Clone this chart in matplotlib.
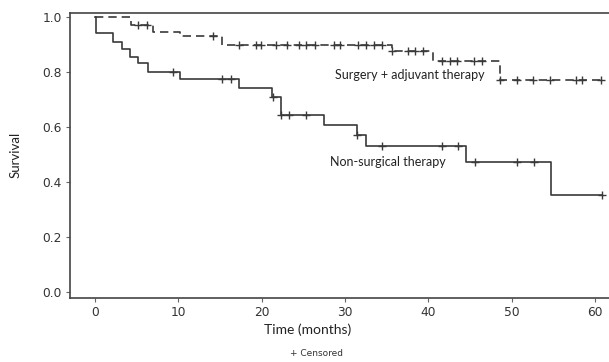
import numpy as np
import matplotlib
matplotlib.use('Agg')
import matplotlib.pyplot as plt

# Kaplan-Meier curves (time in months, survival after each step)
ns_t = [0, 0.15, 2.2, 3.2, 4.2, 5.2, 6.4, 10.2, 17.3, 21.3, 22.3, 27.5, 31.5, 32.5, 44.5, 54.7, 60.9]
ns_s = [1.0, 0.942, 0.912, 0.884, 0.857, 0.833, 0.803, 0.775, 0.743, 0.711, 0.645, 0.609, 0.572, 0.532, 0.472, 0.353, 0.353]
ns_cens = [9.4, 15.3, 16.3, 21.4, 22.3, 23.3, 25.3, 31.5, 34.4, 41.6, 43.6, 45.6, 50.7, 52.7, 60.9]

su_t = [0, 4.3, 7.0, 10.2, 15.2, 35.6, 40.6, 48.6, 61.0]
su_s = [1.0, 0.972, 0.948, 0.933, 0.900, 0.876, 0.840, 0.772, 0.772]
su_cens = [5.1, 6.2, 14.2, 17.3, 19.3, 19.9, 21.7, 23.1, 24.5, 25.3, 26.4, 28.7, 29.4,
           31.6, 32.5, 33.5, 34.4, 35.6, 37.6, 38.4, 39.4, 41.7, 42.6, 43.5, 45.5, 46.4,
           48.6, 50.6, 52.6, 54.6, 57.7, 58.5, 60.7]

x_ticks = [0, 10, 20, 30, 40, 50, 60]
y_ticks = [0.0, 0.2, 0.4, 0.6, 0.8, 1.0]

lab_surg = 'Surgery + adjuvant therapy'
lab_non = 'Non-surgical therapy'


def level_at(times, surv, tc):
    # value of the step curve at censor time
    idx = np.searchsorted(times, tc, side='right') - 1
    return np.array(surv)[idx]


col = '#3a3a3a'
fig = plt.figure(figsize=(6.09, 3.62), dpi=100)
ax = fig.add_axes([0.115, 0.177, 0.885, 0.788])

# surgery (dashed)
ax.step(su_t, su_s, where='post', color=col, lw=1.2, dashes=(5, 3))
ax.plot(su_cens, level_at(su_t, su_s, su_cens), ls='none', marker='+', ms=5.5, mew=1.0, color=col)

# non-surgical (solid)
ax.step(ns_t, ns_s, where='post', color=col, lw=1.2)
ax.plot(ns_cens, level_at(ns_t, ns_s, ns_cens), ls='none', marker='+', ms=5.5, mew=1.0, color=col)

ax.text(37.8, 0.79, lab_surg, ha='center', va='center', fontsize=9, family='Lato', color='#222222')
ax.text(35.2, 0.475, lab_non, ha='center', va='center', fontsize=9, family='Lato', color='#222222')

ax.set_xlim(-3, 61.7)
ax.set_ylim(-0.022, 1.0175)
ax.set_xticks(x_ticks)
ax.set_yticks(y_ticks)
ax.set_yticklabels(['%.1f' % v for v in y_ticks])
ax.tick_params(direction='out', length=3, width=0.8, color='#666666',
               labelsize=8.8, labelcolor='#333333', pad=3)

for s in ['left', 'bottom', 'top']:
    ax.spines[s].set_color('#444444')
    ax.spines[s].set_linewidth(1.2)
ax.spines['right'].set_visible(False)

ax.set_ylabel('Survival', fontsize=9.5, family='Lato', color='#222222')
ax.yaxis.set_label_coords(-0.09, 0.5)
ax.set_xlabel('Time (months)', fontsize=10, family='Lato', color='#222222')
ax.xaxis.set_label_coords((308 - 70) / 539, -0.088)
fig.text(316 / 609, 1 - 353 / 362, '+ Censored', ha='center', va='center', fontsize=6.5, color='#333333')

fig.savefig('out.png', dpi=100)
